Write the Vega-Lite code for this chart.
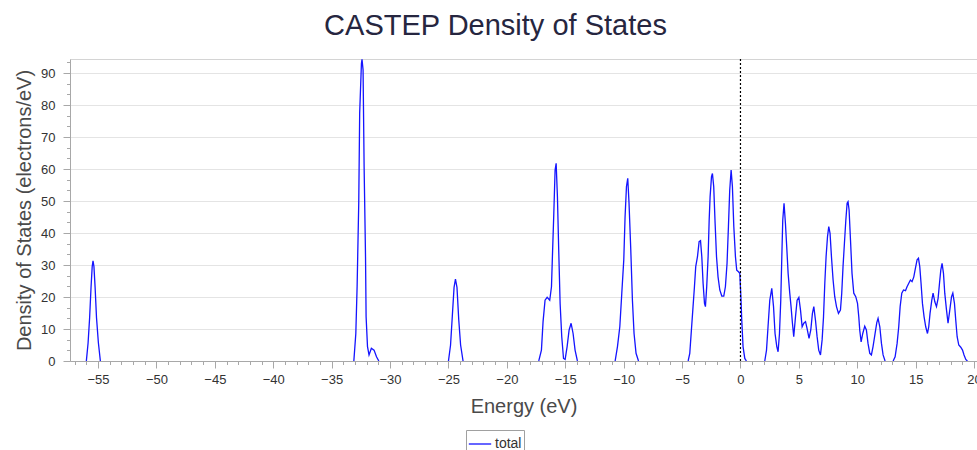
{
  "$schema": "https://vega.github.io/schema/vega-lite/v6.json",
  "width": 907,
  "height": 302,
  "autosize": {"type": "none"},
  "padding": {"left": 70, "top": 59, "right": 0, "bottom": 91},
  "background": "white",
  "title": {"text": "CASTEP Density of States", "font": "Liberation Sans", "fontSize": 29, "fontWeight": "normal", "color": "#262640", "anchor": "middle", "offset": 17, "dx": -28},
  "config": {
    "view": {"stroke": "#d4d4d4", "strokeWidth": 1},
    "axis": {"labelFont": "Liberation Sans", "titleFont": "Liberation Sans", "labelColor": "#333333", "titleColor": "#4a4a4a", "domainColor": "#a8a8a8", "tickColor": "#a8a8a8", "gridColor": "#e4e4e4", "titleFontWeight": "normal"},
    "legend": {"labelFont": "Liberation Sans"}
  },
  "layer": [
    {
      "data": {"values": [
        {"e": -56.0, "d": 0, "s": 1}, {"e": -55.85, "d": 5.7, "s": 1}, {"e": -55.72, "d": 13.5, "s": 1}, {"e": -55.6, "d": 23, "s": 1}, {"e": -55.5, "d": 29.5, "s": 1}, {"e": -55.43, "d": 31.3, "s": 1}, {"e": -55.35, "d": 29.5, "s": 1}, {"e": -55.25, "d": 23, "s": 1}, {"e": -55.13, "d": 13.5, "s": 1}, {"e": -54.97, "d": 5.7, "s": 1}, {"e": -54.8, "d": 0, "s": 1},
        {"e": -33.1, "d": 0, "s": 2}, {"e": -32.93, "d": 8.6, "s": 2}, {"e": -32.82, "d": 23.2, "s": 2}, {"e": -32.68, "d": 49.4, "s": 2}, {"e": -32.6, "d": 77.5, "s": 2}, {"e": -32.45, "d": 93, "s": 2}, {"e": -32.4, "d": 94.3, "s": 2}, {"e": -32.31, "d": 91, "s": 2}, {"e": -32.22, "d": 60.7, "s": 2}, {"e": -32.1, "d": 32.6, "s": 2}, {"e": -32.05, "d": 13.8, "s": 2}, {"e": -31.93, "d": 4.5, "s": 2}, {"e": -31.8, "d": 1.9, "s": 2}, {"e": -31.6, "d": 4.0, "s": 2}, {"e": -31.37, "d": 3.4, "s": 2}, {"e": -31.16, "d": 1.3, "s": 2}, {"e": -30.96, "d": 0, "s": 2},
        {"e": -25.0, "d": 0, "s": 3}, {"e": -24.82, "d": 5, "s": 3}, {"e": -24.67, "d": 14, "s": 3}, {"e": -24.52, "d": 23, "s": 3}, {"e": -24.4, "d": 25.6, "s": 3}, {"e": -24.27, "d": 23, "s": 3}, {"e": -24.12, "d": 13, "s": 3}, {"e": -23.96, "d": 5, "s": 3}, {"e": -23.75, "d": 0, "s": 3},
        {"e": -17.27, "d": 0, "s": 4}, {"e": -17.04, "d": 3.4, "s": 4}, {"e": -16.9, "d": 12.3, "s": 4}, {"e": -16.73, "d": 19, "s": 4}, {"e": -16.55, "d": 19.9, "s": 4}, {"e": -16.33, "d": 19, "s": 4}, {"e": -16.18, "d": 23.2, "s": 4}, {"e": -16.1, "d": 32.6, "s": 4}, {"e": -15.98, "d": 46.1, "s": 4}, {"e": -15.87, "d": 59.7, "s": 4}, {"e": -15.78, "d": 61.8, "s": 4}, {"e": -15.67, "d": 51.3, "s": 4}, {"e": -15.56, "d": 34.7, "s": 4}, {"e": -15.44, "d": 18, "s": 4}, {"e": -15.3, "d": 7.6, "s": 4}, {"e": -15.15, "d": 0.8, "s": 4}, {"e": -15.01, "d": 0.5, "s": 4}, {"e": -14.84, "d": 4.5, "s": 4}, {"e": -14.67, "d": 9.7, "s": 4}, {"e": -14.5, "d": 11.8, "s": 4}, {"e": -14.33, "d": 8.6, "s": 4}, {"e": -14.16, "d": 3.4, "s": 4}, {"e": -13.96, "d": 0, "s": 4},
        {"e": -10.73, "d": 0, "s": 5}, {"e": -10.53, "d": 4.5, "s": 5}, {"e": -10.33, "d": 10.7, "s": 5}, {"e": -10.16, "d": 21.2, "s": 5}, {"e": -9.99, "d": 31.6, "s": 5}, {"e": -9.88, "d": 45, "s": 5}, {"e": -9.76, "d": 54.5, "s": 5}, {"e": -9.65, "d": 57.1, "s": 5}, {"e": -9.54, "d": 49.3, "s": 5}, {"e": -9.39, "d": 34.7, "s": 5}, {"e": -9.25, "d": 19, "s": 5}, {"e": -9.11, "d": 8.6, "s": 5}, {"e": -8.94, "d": 2.4, "s": 5}, {"e": -8.73, "d": 0, "s": 5},
        {"e": -4.48, "d": 0, "s": 6}, {"e": -4.34, "d": 2.4, "s": 6}, {"e": -4.2, "d": 9.7, "s": 6}, {"e": -4.06, "d": 17, "s": 6}, {"e": -3.94, "d": 23.2, "s": 6}, {"e": -3.83, "d": 29.5, "s": 6}, {"e": -3.68, "d": 32.6, "s": 6}, {"e": -3.54, "d": 37.3, "s": 6}, {"e": -3.42, "d": 37.6, "s": 6}, {"e": -3.31, "d": 32.6, "s": 6}, {"e": -3.2, "d": 24.3, "s": 6}, {"e": -3.08, "d": 18, "s": 6}, {"e": -3.0, "d": 17, "s": 6}, {"e": -2.89, "d": 23.2, "s": 6}, {"e": -2.77, "d": 32.6, "s": 6}, {"e": -2.68, "d": 44, "s": 6}, {"e": -2.6, "d": 51.3, "s": 6}, {"e": -2.48, "d": 57.6, "s": 6}, {"e": -2.4, "d": 58.6, "s": 6}, {"e": -2.29, "d": 54.5, "s": 6}, {"e": -2.17, "d": 43, "s": 6}, {"e": -2.05, "d": 32.6, "s": 6}, {"e": -1.92, "d": 26.3, "s": 6}, {"e": -1.77, "d": 22.2, "s": 6}, {"e": -1.6, "d": 20.3, "s": 6}, {"e": -1.43, "d": 20.3, "s": 6}, {"e": -1.29, "d": 23.2, "s": 6}, {"e": -1.15, "d": 30.5, "s": 6}, {"e": -1.03, "d": 42, "s": 6}, {"e": -0.92, "d": 53.4, "s": 6}, {"e": -0.8, "d": 59.7, "s": 6}, {"e": -0.69, "d": 54.5, "s": 6}, {"e": -0.57, "d": 42, "s": 6}, {"e": -0.43, "d": 32.6, "s": 6}, {"e": -0.32, "d": 28.4, "s": 6}, {"e": -0.17, "d": 27.9, "s": 6}, {"e": -0.06, "d": 27.4, "s": 6}, {"e": 0.03, "d": 20.6, "s": 6}, {"e": 0.11, "d": 12.8, "s": 6}, {"e": 0.22, "d": 4.5, "s": 6}, {"e": 0.37, "d": 0.8, "s": 6}, {"e": 0.51, "d": 0, "s": 6},
        {"e": 2.08, "d": 0, "s": 7}, {"e": 2.23, "d": 3.4, "s": 7}, {"e": 2.36, "d": 10.7, "s": 7}, {"e": 2.51, "d": 19, "s": 7}, {"e": 2.68, "d": 22.7, "s": 7}, {"e": 2.83, "d": 17, "s": 7}, {"e": 2.96, "d": 8.6, "s": 7}, {"e": 3.11, "d": 4.5, "s": 7}, {"e": 3.22, "d": 2.9, "s": 7}, {"e": 3.34, "d": 8.6, "s": 7}, {"e": 3.45, "d": 19, "s": 7}, {"e": 3.54, "d": 32.6, "s": 7}, {"e": 3.62, "d": 44, "s": 7}, {"e": 3.73, "d": 49.3, "s": 7}, {"e": 3.85, "d": 43, "s": 7}, {"e": 3.96, "d": 35.7, "s": 7}, {"e": 4.08, "d": 27.4, "s": 7}, {"e": 4.22, "d": 21.2, "s": 7}, {"e": 4.33, "d": 17, "s": 7}, {"e": 4.45, "d": 11.8, "s": 7}, {"e": 4.56, "d": 7.6, "s": 7}, {"e": 4.71, "d": 13.8, "s": 7}, {"e": 4.85, "d": 19, "s": 7}, {"e": 5.0, "d": 19.9, "s": 7}, {"e": 5.14, "d": 15.9, "s": 7}, {"e": 5.28, "d": 10.7, "s": 7}, {"e": 5.42, "d": 11.8, "s": 7}, {"e": 5.57, "d": 12.3, "s": 7}, {"e": 5.7, "d": 10.2, "s": 7}, {"e": 5.87, "d": 7.1, "s": 7}, {"e": 6.02, "d": 9.7, "s": 7}, {"e": 6.16, "d": 14.9, "s": 7}, {"e": 6.28, "d": 17, "s": 7}, {"e": 6.42, "d": 12.8, "s": 7}, {"e": 6.56, "d": 7.6, "s": 7}, {"e": 6.7, "d": 3.4, "s": 7}, {"e": 6.85, "d": 1.9, "s": 7}, {"e": 6.99, "d": 6.6, "s": 7}, {"e": 7.11, "d": 13.8, "s": 7}, {"e": 7.22, "d": 24.3, "s": 7}, {"e": 7.33, "d": 32.6, "s": 7}, {"e": 7.45, "d": 38.8, "s": 7}, {"e": 7.56, "d": 42, "s": 7}, {"e": 7.67, "d": 39.9, "s": 7}, {"e": 7.79, "d": 32.6, "s": 7}, {"e": 7.93, "d": 25.3, "s": 7}, {"e": 8.07, "d": 20.1, "s": 7}, {"e": 8.22, "d": 17, "s": 7}, {"e": 8.39, "d": 14.9, "s": 7}, {"e": 8.56, "d": 15.9, "s": 7}, {"e": 8.67, "d": 21.2, "s": 7}, {"e": 8.78, "d": 29.5, "s": 7}, {"e": 8.9, "d": 36.8, "s": 7}, {"e": 9.02, "d": 44, "s": 7}, {"e": 9.13, "d": 49.3, "s": 7}, {"e": 9.21, "d": 49.8, "s": 7}, {"e": 9.3, "d": 47.2, "s": 7}, {"e": 9.42, "d": 37.8, "s": 7}, {"e": 9.55, "d": 27.4, "s": 7}, {"e": 9.7, "d": 21.2, "s": 7}, {"e": 9.87, "d": 20.1, "s": 7}, {"e": 10.02, "d": 18, "s": 7}, {"e": 10.13, "d": 13.8, "s": 7}, {"e": 10.21, "d": 9.7, "s": 7}, {"e": 10.33, "d": 6, "s": 7}, {"e": 10.47, "d": 8.6, "s": 7}, {"e": 10.64, "d": 10.9, "s": 7}, {"e": 10.78, "d": 9.7, "s": 7}, {"e": 10.92, "d": 5.5, "s": 7}, {"e": 11.07, "d": 2.4, "s": 7}, {"e": 11.21, "d": 1.9, "s": 7}, {"e": 11.35, "d": 4.5, "s": 7}, {"e": 11.52, "d": 8.5, "s": 7}, {"e": 11.67, "d": 12, "s": 7}, {"e": 11.78, "d": 13.3, "s": 7}, {"e": 11.93, "d": 10.7, "s": 7}, {"e": 12.07, "d": 5.5, "s": 7}, {"e": 12.21, "d": 1.9, "s": 7}, {"e": 12.38, "d": 0, "s": 7},
        {"e": 13.07, "d": 0, "s": 8}, {"e": 13.24, "d": 1.3, "s": 8}, {"e": 13.41, "d": 5.5, "s": 8}, {"e": 13.55, "d": 10.7, "s": 8}, {"e": 13.67, "d": 17, "s": 8}, {"e": 13.81, "d": 21.2, "s": 8}, {"e": 13.96, "d": 22.2, "s": 8}, {"e": 14.13, "d": 22, "s": 8}, {"e": 14.26, "d": 23.2, "s": 8}, {"e": 14.41, "d": 24.3, "s": 8}, {"e": 14.55, "d": 25.3, "s": 8}, {"e": 14.69, "d": 24.8, "s": 8}, {"e": 14.84, "d": 26.3, "s": 8}, {"e": 14.98, "d": 29, "s": 8}, {"e": 15.12, "d": 31.6, "s": 8}, {"e": 15.24, "d": 32.1, "s": 8}, {"e": 15.35, "d": 29.5, "s": 8}, {"e": 15.46, "d": 24.3, "s": 8}, {"e": 15.58, "d": 18, "s": 8}, {"e": 15.72, "d": 13.8, "s": 8}, {"e": 15.86, "d": 10.7, "s": 8}, {"e": 16.01, "d": 8.6, "s": 8}, {"e": 16.12, "d": 10.7, "s": 8}, {"e": 16.23, "d": 14.9, "s": 8}, {"e": 16.38, "d": 19, "s": 8}, {"e": 16.49, "d": 21.2, "s": 8}, {"e": 16.64, "d": 18.5, "s": 8}, {"e": 16.78, "d": 17, "s": 8}, {"e": 16.92, "d": 19.6, "s": 8}, {"e": 17.04, "d": 24.3, "s": 8}, {"e": 17.15, "d": 28.4, "s": 8}, {"e": 17.26, "d": 30.5, "s": 8}, {"e": 17.38, "d": 27.4, "s": 8}, {"e": 17.49, "d": 21.2, "s": 8}, {"e": 17.64, "d": 15.9, "s": 8}, {"e": 17.77, "d": 11.8, "s": 8}, {"e": 17.92, "d": 15.9, "s": 8}, {"e": 18.07, "d": 20.1, "s": 8}, {"e": 18.18, "d": 21.2, "s": 8}, {"e": 18.32, "d": 18, "s": 8}, {"e": 18.43, "d": 12.8, "s": 8}, {"e": 18.55, "d": 7.6, "s": 8}, {"e": 18.69, "d": 5, "s": 8}, {"e": 18.86, "d": 4.3, "s": 8}, {"e": 19.01, "d": 3.4, "s": 8}, {"e": 19.14, "d": 1.9, "s": 8}, {"e": 19.29, "d": 0.5, "s": 8}, {"e": 19.43, "d": 0, "s": 8}
      ]},
      "mark": {"type": "line", "strokeWidth": 1.3, "clip": true},
      "encoding": {
        "x": {"field": "e", "type": "quantitative", "scale": {"domain": [-57.4, 20.25], "nice": false, "zero": false},
          "axis": {"title": "Energy (eV)", "titleFontSize": 20, "titlePadding": 10, "values": [-55, -50, -45, -40, -35, -30, -25, -20, -15, -10, -5, 0, 5, 10, 15, 20], "labelFontSize": 13, "tickSize": 7, "labelPadding": 5, "grid": false, "orient": "bottom", "labelFlush": false, "labelOverlap": false}},
        "y": {"field": "d", "type": "quantitative", "scale": {"domain": [0, 94.4], "nice": false},
          "axis": {"title": "Density of States (electrons/eV)", "titleFontSize": 20, "titlePadding": 6, "values": [0, 10, 20, 30, 40, 50, 60, 70, 80, 90], "labelFontSize": 13, "tickSize": 7, "labelPadding": 8, "grid": true, "orient": "left", "labelFlush": false}},
        "detail": {"field": "s", "type": "nominal"},
        "color": {"datum": "total", "type": "nominal", "scale": {"range": ["#1414ff"]},
          "legend": {"title": null, "orient": "none", "legendX": 396, "legendY": 371, "symbolType": "stroke", "symbolSize": 500, "symbolStrokeWidth": 1.3, "labelFontSize": 14, "labelColor": "#333333", "strokeColor": "#a0a0a0", "padding": 2, "labelOffset": 3}}
      }
    },
    {
      "data": {"values": [{"e": 0}]},
      "mark": {"type": "rule", "color": "#000000", "strokeWidth": 1.2, "strokeDash": [2, 2]},
      "encoding": {
        "x": {"field": "e", "type": "quantitative",
          "axis": {"orient": "bottom", "title": null, "labels": false, "domain": false, "grid": false, "tickSize": 3.5, "values": [-57, -56, -55, -54, -53, -52, -51, -50, -49, -48, -47, -46, -45, -44, -43, -42, -41, -40, -39, -38, -37, -36, -35, -34, -33, -32, -31, -30, -29, -28, -27, -26, -25, -24, -23, -22, -21, -20, -19, -18, -17, -16, -15, -14, -13, -12, -11, -10, -9, -8, -7, -6, -5, -4, -3, -2, -1, 0, 1, 2, 3, 4, 5, 6, 7, 8, 9, 10, 11, 12, 13, 14, 15, 16, 17, 18, 19, 20]}},
        "y": {"datum": 0, "type": "quantitative",
          "axis": {"orient": "left", "title": null, "labels": false, "domain": false, "grid": false, "tickSize": 3.5, "values": [3.333, 6.667, 13.333, 16.667, 23.333, 26.667, 33.333, 36.667, 43.333, 46.667, 53.333, 56.667, 63.333, 66.667, 73.333, 76.667, 83.333, 86.667, 93.333]}},
        "y2": {"datum": 94.4}
      }
    }
  ],
  "resolve": {"axis": {"x": "independent", "y": "independent"}}
}
